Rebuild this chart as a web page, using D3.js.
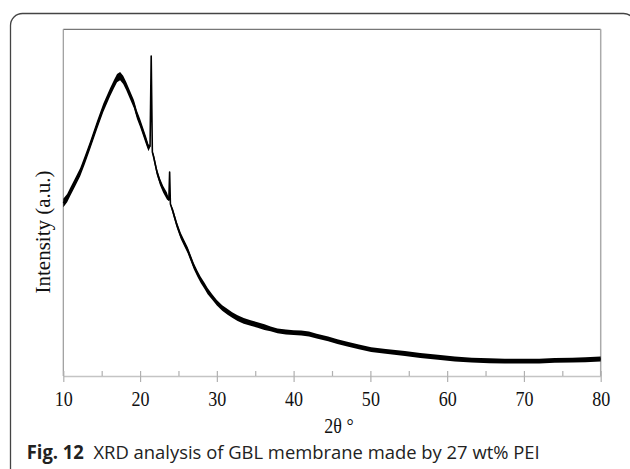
<!DOCTYPE html>
<html>
<head>
<meta charset="utf-8">
<script src="https://cdn.jsdelivr.net/npm/d3@7"></script>
<style>
  body { margin: 0; background: #fff; }
  svg { display: block; }
</style>
</head>
<body>
<div id="chart"></div>
<script>
// 2theta positions (deg)
const twoTheta = [10.0,10.5,10.9,11.5,12.2,12.8,13.5,14.4,15.2,16.1,
  16.6,17.0,17.4,17.8,18.2,18.7,19.2,19.6,20.0,20.4,
  20.8,21.1,21.3,21.45,21.6,21.8,22.2,22.6,23.0,23.5,
  23.75,23.85,23.95,24.3,24.8,25.3,25.8,26.2,26.6,27.0,
  27.5,27.9,28.4,28.8,29.4,30.0,30.7,31.4,32.0,32.7,
  33.5,34.4,35.3,36.2,37.0,37.9,39.0,40.0,41.0,42.0,
  43.0,44.5,45.7,47.0,48.5,50.1,52.0,54.5,56.5,58.8,
  61.0,63.2,65.5,67.5,70.0,72.0,74.0,76.3,78.0,80.0];
// intensity (a.u., 0-1000 over the plot height)
const intensity = [499,513,531,557,588,623,666,724,773,819,
  842,859,865,854,836,810,784,753,730,704,
  678,658,663,923,646,629,588,560,539,519,
  508,588,496,473,435,404,381,363,340,317,
  294,277,260,245,228,211,196,185,176,167,
  159,153,147,141,136,130,127,125,124,121,
  115,107,99,92,84,76,71,65,59,54,
  49,46,44,43,43,43,45,46,47,49];
// half width of the noise band around the trace (a.u.)
const noise = [12,12,12,12,12,12,12,12,12,12,
  12,12,12,12,12,12,12,12,12,12,
  12,10,3,0,3,10,10,10,10,10,
  3,0,3,9,9,9,9,9,9,9,
  9,9,9,9,8,8,8,8,8,8,
  8,8,8,8,7,7,7,7,7,7,
  7,7,7,7,7,7,7,7,7,7,
  7,7,7,7,7,7,7,7,7,7];
const majorTicks = [10,20,30,40,50,60,70,80];
const minorTicks = [15,25,35,45,55,65,75];

const W = 630, H = 469;
const plotL = 63.3, plotR = 600.7, plotT = 29.3, plotB = 376;

const svg = d3.select('#chart').append('svg').attr('width', W).attr('height', H);

// outer figure frame
svg.append('rect').attr('x', 10.5).attr('y', 13.5).attr('width', 625).attr('height', 480)
  .attr('rx', 12).attr('fill', 'none').attr('stroke', '#444').attr('stroke-width', 1.3);

var x = d3.scaleLinear().domain([10, 80]).range([plotL, plotR]);
var y = d3.scaleLinear().domain([0, 1000]).range([plotB, plotT]);

// plot box
svg.append('line').attr('x1', plotL).attr('x2', plotR).attr('y1', plotT).attr('y2', plotT)
  .attr('stroke', '#777').attr('stroke-width', 1.2);
svg.append('line').attr('x1', plotL).attr('x2', plotL).attr('y1', plotT).attr('y2', plotB)
  .attr('stroke', '#999').attr('stroke-width', 1.2);
svg.append('line').attr('x1', plotR).attr('x2', plotR).attr('y1', plotT).attr('y2', plotB)
  .attr('stroke', '#aaa').attr('stroke-width', 1.5);

// x axis
let xAxis = svg.append('g').attr('transform', 'translate(0,' + plotB + ')')
  .call(d3.axisBottom(x).tickValues(majorTicks).tickSizeOuter(0).tickFormat(d3.format('d')));
xAxis.select('.domain').attr('stroke', '#c4c4c4').attr('stroke-width', 1.3);
xAxis.selectAll('.tick line').attr('y1', -5).attr('y2', 6).attr('stroke', '#b0b0b0').attr('stroke-width', 1.2);
xAxis.selectAll('.tick text').attr('y', 30).attr('dy', null)
  .attr('font-family', '"Liberation Serif", "Times New Roman", serif').attr('font-size', 21)
  .attr('fill', '#111').attr('transform', 'scale(0.86,1)');

let minor = svg.append('g').attr('transform', 'translate(0,' + plotB + ')')
  .call(d3.axisTop(x).tickValues(minorTicks).tickSize(5).tickSizeOuter(0).tickFormat(''));
minor.select('.domain').remove();
minor.selectAll('.tick line').attr('stroke', '#b0b0b0').attr('stroke-width', 1.2);

// data
let pts = twoTheta.map(function(t, i){ return {t: t, v: intensity[i], n: noise[i]}; });

let band = d3.area()
  .x(function(d){ return x(d.t); })
  .y0(function(d){ return y(d.v - d.n); })
  .y1(function(d){ return y(d.v + d.n); });
svg.append('path').datum(pts).attr('d', band).attr('fill', '#000');

let line = d3.line().x(function(d){ return x(d.t); }).y(function(d){ return y(d.v); });
svg.append('path').datum(pts).attr('d', line).attr('fill', 'none')
  .attr('stroke', '#000').attr('stroke-width', 1.6).attr('stroke-linejoin', 'round');

// axis titles
svg.append('text').attr('transform', 'translate(339,432.7) scale(0.86,1)')
  .attr('text-anchor', 'middle').attr('font-family', '"Liberation Serif", "Times New Roman", serif')
  .attr('font-size', 21).attr('fill', '#111').text('2θ °');

svg.append('text').attr('transform', 'translate(50,232) rotate(-90)')
  .attr('text-anchor', 'middle').attr('font-family', '"Liberation Serif", "Times New Roman", serif')
  .attr('font-size', 21).attr('fill', '#111').text('Intensity (a.u.)');

// caption
let cap = svg.append('text').attr('x', 26.7).attr('y', 459.3)
  .attr('font-family', '"Open Sans", "Noto Sans", sans-serif').attr('font-size', 19).attr('fill', '#222')
  .attr('textLength', 513).attr('lengthAdjust', 'spacingAndGlyphs');
cap.append('tspan').attr('font-weight', 'bold').text('Fig. 12');
cap.append('tspan').text('\u00a0\u00a0XRD analysis of GBL membrane made by 27 wt% PEI');
</script>
</body>
</html>
